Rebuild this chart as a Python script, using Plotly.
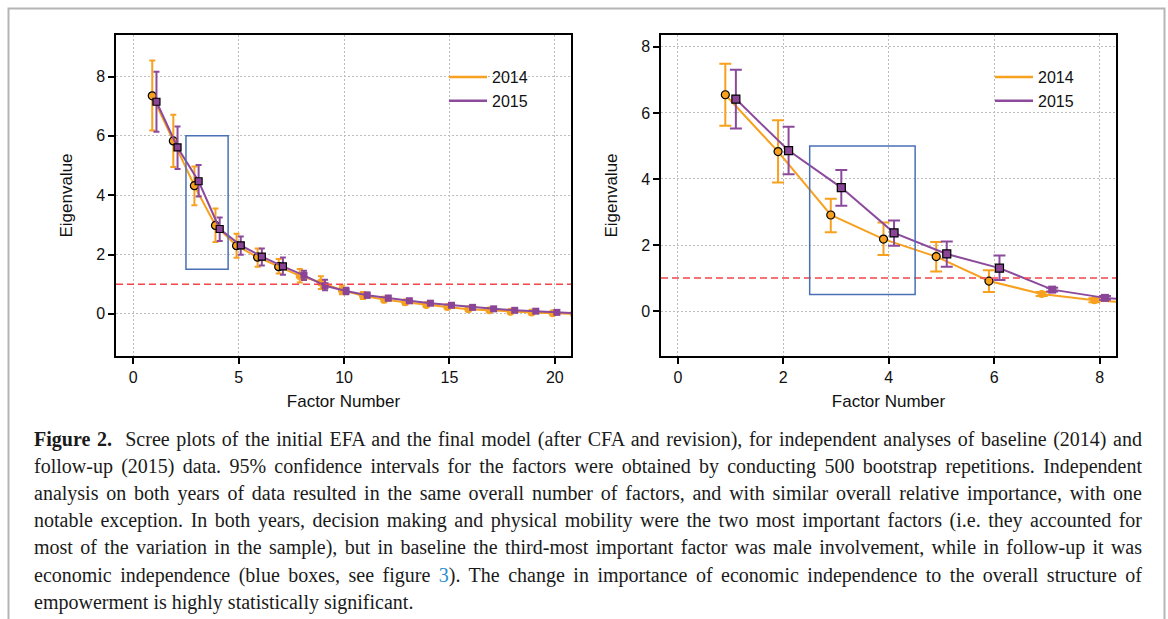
import plotly.graph_objects as go

# ---------------- data ----------------
left_factors = list(range(1, 22))
left_2014 = [7.35, 5.83, 4.32, 2.98, 2.30, 1.91, 1.59, 1.28, 1.06, 0.80, 0.61, 0.48, 0.39, 0.30, 0.23, 0.16, 0.12, 0.07, 0.05, 0.02, 0.00]
left_2014_hi = [8.54, 6.71, 4.97, 3.55, 2.70, 2.20, 1.85, 1.51, 1.27, 0.96, 0.74, 0.58, 0.47, 0.37, 0.29, 0.21, 0.16, 0.11, 0.08, 0.05, 0.02]
left_2014_lo = [6.18, 4.95, 3.66, 2.42, 1.89, 1.59, 1.36, 1.06, 0.84, 0.66, 0.50, 0.39, 0.31, 0.23, 0.17, 0.11, 0.08, 0.04, 0.02, 0.00, -0.02]
left_2015 = [7.15, 5.61, 4.47, 2.86, 2.31, 1.93, 1.60, 1.30, 0.95, 0.77, 0.63, 0.53, 0.44, 0.36, 0.29, 0.22, 0.17, 0.12, 0.09, 0.05, 0.02]
left_2015_hi = [8.16, 6.32, 5.02, 3.25, 2.61, 2.20, 1.90, 1.45, 1.15, 0.88, 0.72, 0.61, 0.51, 0.42, 0.34, 0.27, 0.21, 0.15, 0.12, 0.08, 0.05]
left_2015_lo = [6.14, 4.88, 3.96, 2.46, 1.99, 1.63, 1.32, 1.14, 0.80, 0.66, 0.54, 0.45, 0.37, 0.30, 0.24, 0.17, 0.13, 0.09, 0.06, 0.02, -0.01]
left_outlined = 7

right_factors = list(range(1, 10))
right_2014 = [6.55, 4.83, 2.91, 2.18, 1.65, 0.91, 0.52, 0.33, 0.22]
right_2014_hi = [7.49, 5.78, 3.40, 2.68, 2.09, 1.24, 0.58, 0.39, 0.27]
right_2014_lo = [5.61, 3.89, 2.39, 1.70, 1.20, 0.58, 0.46, 0.27, 0.17]
right_2015 = [6.42, 4.86, 3.74, 2.37, 1.73, 1.30, 0.65, 0.40, 0.27]
right_2015_hi = [7.31, 5.58, 4.27, 2.74, 2.11, 1.68, 0.71, 0.46, 0.32]
right_2015_lo = [5.53, 4.14, 3.19, 1.98, 1.34, 0.94, 0.59, 0.34, 0.22]
right_outlined = 6

years = ["2014", "2015"]
threshold = 1
left_box = dict(x0=2.5, x1=4.5, y0=1.5, y1=6.0)
right_box = dict(x0=2.5, x1=4.5, y0=0.5, y1=5.0)

caption_lines = [
    "<b>Figure 2.</b>  Scree plots of the initial EFA and the final model (after CFA and revision), for independent analyses of baseline (2014) and",
    "follow-up (2015) data. 95% confidence intervals for the factors were obtained by conducting 500 bootstrap repetitions. Independent",
    "analysis on both years of data resulted in the same overall number of factors, and with similar overall relative importance, with one",
    "notable exception. In both years, decision making and physical mobility were the two most important factors (i.e. they accounted for",
    "most of the variation in the sample), but in baseline the third-most important factor was male involvement, while in follow-up it was",
    "economic independence (blue boxes, see figure <span style='color:#2a8fd0'>3</span>). The change in importance of economic independence to the overall structure of",
    "empowerment is highly statistically significant.",
]

# ---------------- styles ----------------
ORANGE = "#F7A11F"
PURPLE = "#8C4A9C"
PURPLE_FILL = "#8A4596"
RED = "#F2454A"
BLUE = "#4A70B8"
W, H = 1168, 619
CAPTION_LEFT, CAPTION_RIGHT = 32, 1140


def px_x(p):
    return p / W


def px_y(p):
    return 1 - p / H


fig = go.Figure()


def add_series(xs, ys, hi, lo, n_out, color, fill, symbol, size, offset, xa, ya):
    fig.add_trace(go.Scatter(
        x=[x + offset for x in xs], y=ys,
        mode="lines+markers",
        line=dict(color=color, width=2),
        marker=dict(symbol=symbol, size=size, color=fill,
                    line=dict(color="black", width=[1.2] * n_out + [0] * (len(xs) - n_out))),
        error_y=dict(type="data", symmetric=False,
                     array=[h - y for h, y in zip(hi, ys)],
                     arrayminus=[y - l for l, y in zip(lo, ys)],
                     color=color, thickness=2, width=3 if xa == "x" else 6),
        xaxis=xa, yaxis=ya, showlegend=False, hoverinfo="skip",
    ))


add_series(left_factors, left_2014, left_2014_hi, left_2014_lo, left_outlined, ORANGE, ORANGE, "circle", 8, -0.1, "x", "y")
add_series(left_factors, left_2015, left_2015_hi, left_2015_lo, left_outlined, PURPLE, PURPLE_FILL, "square", 7, 0.1, "x", "y")
add_series(right_factors, right_2014, right_2014_hi, right_2014_lo, right_outlined, ORANGE, ORANGE, "circle", 8, -0.1, "x2", "y2")
add_series(right_factors, right_2015, right_2015_hi, right_2015_lo, right_outlined, PURPLE, PURPLE_FILL, "square", 8, 0.1, "x2", "y2")

# legend entries (lines only)
for lg in ["legend", "legend2"]:
    for name, col in zip(years, [ORANGE, PURPLE]):
        fig.add_trace(go.Scatter(x=[None], y=[None], mode="lines", name=name,
                                 line=dict(color=col, width=2.5), legend=lg,
                                 xaxis="x" if lg == "legend" else "x2",
                                 yaxis="y" if lg == "legend" else "y2"))

axis_common = dict(
    showline=True, mirror=True, linecolor="black", linewidth=1.5,
    ticks="outside", ticklen=6, tickwidth=1.5, tickcolor="black",
    showgrid=True, gridcolor="#BDBDBD", griddash="2px,2px", gridwidth=1,
    zeroline=False, automargin=False,
    tickfont=dict(family="Liberation Sans, Arial", size=16, color="#111"),
    title_font=dict(family="Liberation Sans, Arial", size=17, color="#111"),
)

ydom = [px_y(356), px_y(35)]
legend_common = dict(xanchor="left", yanchor="top", bgcolor="rgba(0,0,0,0)",
                     font=dict(family="Liberation Sans, Arial", size=16, color="#111"),
                     itemwidth=38, tracegroupgap=0)
fig.update_layout(
    width=W, height=H,
    margin=dict(l=0, r=0, t=0, b=0),
    paper_bgcolor="white", plot_bgcolor="white",
    xaxis=dict(domain=[px_x(116), px_x(571)], range=[-0.82, 20.77], tickvals=[0, 5, 10, 15, 20],
               title=dict(text="Factor Number", standoff=10), anchor="y", **axis_common),
    yaxis=dict(domain=ydom, range=[-1.42, 9.4], tickvals=[0, 2, 4, 6, 8],
               title=dict(text="Eigenvalue", standoff=19), anchor="x", **axis_common),
    xaxis2=dict(domain=[px_x(661), px_x(1116)], range=[-0.32, 8.31], tickvals=[0, 2, 4, 6, 8],
                title=dict(text="Factor Number", standoff=10), anchor="y2", **axis_common),
    yaxis2=dict(domain=ydom, range=[-1.36, 8.36], tickvals=[0, 2, 4, 6, 8],
                title=dict(text="Eigenvalue", standoff=19), anchor="x2", **axis_common),
    legend=dict(x=px_x(444), y=px_y(60), **legend_common),
    legend2=dict(x=px_x(990), y=px_y(60), **legend_common),
)

shapes = []
for xa, ya, box in [("x", "y", left_box), ("x2", "y2", right_box)]:
    shapes.append(dict(type="line", xref=f"{xa} domain", yref=ya, x0=0, x1=1, y0=threshold, y1=threshold,
                       line=dict(color=RED, width=1.5, dash="7px,4px")))
    shapes.append(dict(type="rect", xref=xa, yref=ya, x0=box["x0"], x1=box["x1"], y0=box["y0"], y1=box["y1"],
                       line=dict(color=BLUE, width=1.5)))
# outer frame
shapes.append(dict(type="path", xref="paper", yref="paper",
                   path=f"M {px_x(8.5)},0 L {px_x(8.5)},{px_y(8.5)} L {px_x(1164.5)},{px_y(8.5)} L {px_x(1164.5)},0",
                   line=dict(color="#B5B5B5", width=2)))
fig.update_layout(shapes=shapes)

for i, line in enumerate(caption_lines):
    fig.add_annotation(xref="paper", yref="paper", x=px_x(CAPTION_LEFT), y=px_y(439 + i * 27.2),
                       xanchor="left", yanchor="middle", showarrow=False, align="left",
                       text=line, font=dict(family="Liberation Serif, Times New Roman", size=20, color="#1a1a1a"))

# justify caption lines (all but the last) to the caption width, as in the reference
justify_js = """
document.body.style.margin='0';
(function(){
  var gd = document.getElementById('{plot_id}');
  var target = %d;
  var nLines = %d;
  function justify(){
    var groups = gd.querySelectorAll('g.annotation');
    groups.forEach(function(g){
      var idx = parseInt(g.getAttribute('data-index'));
      if (isNaN(idx) || idx >= nLines - 1) return;
      var t = g.querySelector('text.annotation-text');
      if (!t) return;
      t.style.wordSpacing = '0px';
      var len = t.getComputedTextLength();
      var nSp = (t.textContent.match(/ /g) || []).length;
      if (nSp > 0 && len < target) {
        t.style.wordSpacing = ((target - len) / nSp) + 'px';
      }
    });
  }
  justify();
  setTimeout(justify, 50);
  setTimeout(justify, 300);
  if (gd.on) gd.on('plotly_afterplot', justify);
})();
""" % (CAPTION_RIGHT - CAPTION_LEFT, len(caption_lines))

fig.write_html("out.html", post_script=justify_js, config={"displayModeBar": False})
